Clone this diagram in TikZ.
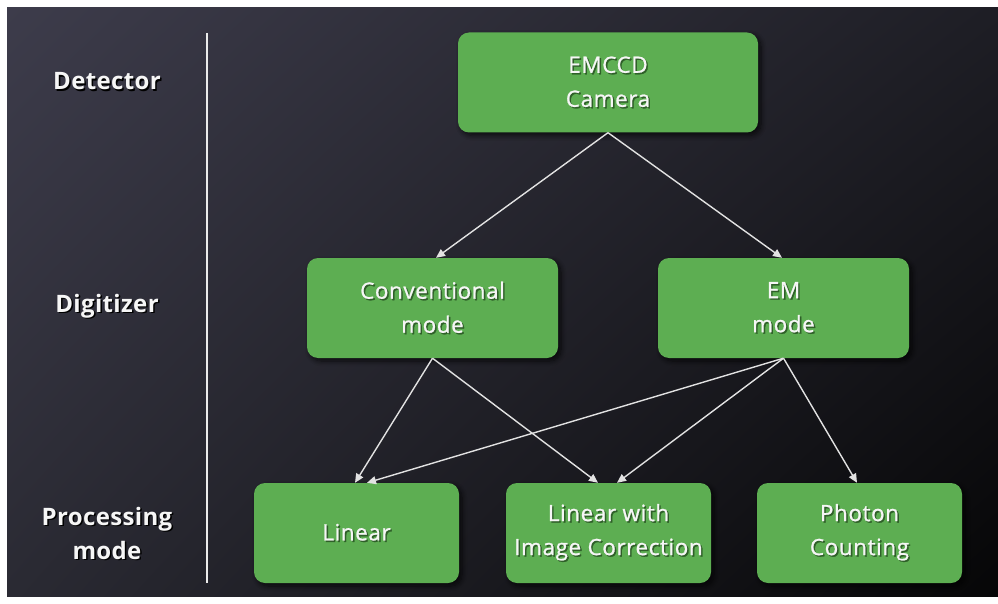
\documentclass[tikz,border=0pt]{standalone}
\usepackage{fontspec}
\setmainfont{Open Sans}
\newfontfamily\stagefont{Open Sans}[FakeBold=1, LetterSpace=2.5]
\newfontfamily\labelfont{Open Sans}[LetterSpace=1.5]
\usetikzlibrary{arrows.meta,shadows.blur,shadings}

\definecolor{boxgreen}{HTML}{5DAE52}
\definecolor{bgTL}{HTML}{3D3C4B}
\definecolor{bgTR}{HTML}{1E1E25}
\definecolor{bgBL}{HTML}{2A2A33}
\definecolor{bgBR}{HTML}{060607}
\definecolor{arrowgrey}{HTML}{E2E2E2}
\definecolor{txtwhite}{HTML}{F6F6F6}
\definecolor{greenshade}{HTML}{2F5F29}

% text with a small offset shadow beneath it
\newcommand\shtxt[2]{\makebox[0pt][l]{\kern1.5pt\raisebox{-1.5pt}{\textcolor{#1}{#2}}}#2}
\newcommand\nsh[1]{\shtxt{greenshade}{#1}}
\newcommand\lsh[1]{\shtxt{black}{#1}}

\tikzset{
  stagebox/.style={rounded corners=11pt, fill=boxgreen, text=txtwhite,
    font=\stagefont\fontsize{22.5}{34}\selectfont, align=center, minimum height=100pt,
    inner sep=0pt,
    blur shadow={shadow xshift=3pt, shadow yshift=-3pt, shadow blur steps=8,
      shadow opacity=70, shadow blur radius=5pt}},
  rowlabel/.style={text=txtwhite, font=\labelfont\bfseries\fontsize{24}{34}\selectfont,
    align=center, inner sep=0pt},
  arr/.style={draw=arrowgrey, line width=1.4pt,
    -{Triangle[length=9pt,width=8pt]}},
  divider/.style={draw=white!92!black, line width=2.8pt}
}

\begin{document}
\begin{tikzpicture}[x=1pt,y=-1pt]
  % canvas and dark shaded backdrop
  \fill[white] (0,0) rectangle (998,604);
  \useasboundingbox (0,0) rectangle (998,604);
  \shade[upper left=bgTL, upper right=bgTR, lower left=bgBL, lower right=bgBR]
    (7,8) rectangle (998,596);

  % row labels and divider
  \node[rowlabel] (ldet)  at (107,82)  {\lsh{Detector}};
  \node[rowlabel] (ldig)  at (107,307) {\lsh{Digitizer}};
  \node[rowlabel] (lproc) at (107,534) {\lsh{Processing}\\\lsh{mode}};
  \coordinate (dtop) at (207,33);
  \coordinate (dbot) at (207,583);
  \draw[divider] (dtop) -- (dbot);

  % stages
  \node[stagebox, minimum width=300pt] (cam)  at (608,82.5)  {\nsh{EMCCD}\\\nsh{Camera}};
  \node[stagebox, minimum width=251pt] (conv) at (432.5,308) {\nsh{Conventional}\\\nsh{mode}};
  \node[stagebox, minimum width=251pt] (em)   at (783.5,308) {\nsh{EM}\\\nsh{mode}};
  \node[stagebox, minimum width=205pt] (lin)  at (356.5,533) {\nsh{Linear}};
  \node[stagebox, minimum width=205pt] (lic)  at (608.5,533) {\nsh{Linear with}\\\nsh{Image Correction}};
  \node[stagebox, minimum width=205pt] (pc)   at (859.5,533) {\nsh{Photon}\\\nsh{Counting}};

  % connections
  \draw[arr] (cam.south) -- ([xshift=3.5pt]conv.north);
  \draw[arr] (cam.south) -- ([xshift=-1.5pt]em.north);
  \draw[arr] (conv.south) -- ([xshift=-1.5pt]lin.north);
  \draw[arr] (conv.south) -- ([xshift=-10.5pt]lic.north);
  \draw[arr] (em.south) -- ([xshift=10.5pt]lin.north);
  \draw[arr] (em.south) -- ([xshift=8.5pt]lic.north);
  \draw[arr] (em.south) -- ([xshift=-2.5pt]pc.north);
\end{tikzpicture}
\end{document}
